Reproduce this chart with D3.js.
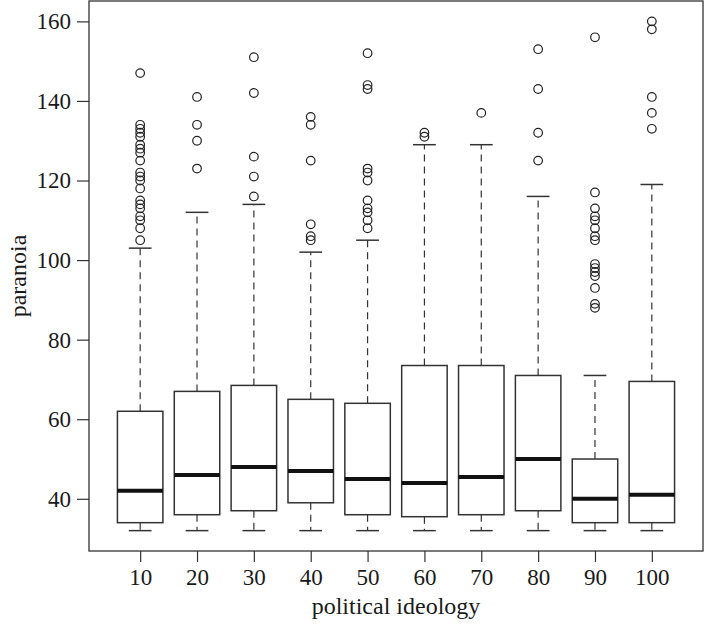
<!DOCTYPE html>
<html>
<head>
<meta charset="utf-8">
<script src="https://cdn.jsdelivr.net/npm/d3@7"></script>
<style>
  html, body { margin: 0; padding: 0; background: #fff; }
  svg { display: block; }
  text { font-family: "Liberation Serif", "Times New Roman", Times, serif; fill: #1a1a1a; }
</style>
</head>
<body>
<svg id="chart" width="705" height="625"></svg>
<script>
// ---- data ----
const categories = ["10", "20", "30", "40", "50", "60", "70", "80", "90", "100"];
const whiskerLow  = [32, 32, 32, 32, 32, 32, 32, 32, 32, 32];
const q1          = [34, 36, 37, 39, 36, 35.5, 36, 37, 34, 34];
const medians     = [42, 46, 48, 47, 45, 44, 45.5, 50, 40, 41];
const q3          = [62, 67, 68.5, 65, 64, 73.5, 73.5, 71, 50, 69.5];
const whiskerHigh = [103, 112, 114, 102, 105, 129, 129, 116, 71, 119];
const outliers = [
  [147, 134, 133, 132, 131, 129, 128, 127, 125, 122, 121, 120, 118, 115, 114, 113, 111, 110, 108, 105],
  [141, 134, 130, 123],
  [151, 142, 126, 121, 116],
  [136, 134, 125, 109, 106, 105],
  [152, 144, 143, 123, 122, 120, 115, 113, 112, 110, 108],
  [132, 131],
  [137],
  [153, 143, 132, 125],
  [156, 117, 113, 111, 110, 108, 106, 105, 99, 98, 97, 96, 93, 89, 88],
  [160, 158, 141, 137, 133]
];
const yTicks = [40, 60, 80, 100, 120, 140, 160];
const xLabel = "political ideology";
const yLabel = "paranoia";

// ---- layout ----
const svg = d3.select("#chart");
const mLeft = 89, mRight = 703, mTop = 1, mBottom = 551;
const ink = "#333";
const tickFs = 23, titleFs = 24;

const x = d3.scaleLinear().domain([0.1, 10.9]).range([mLeft, mRight]);
const y = d3.scaleLinear().domain([26.88, 165.12]).range([mBottom, mTop]);
const boxW = x(0.8) - x(0);
const capW = x(0.4) - x(0);

// frame
svg.append("rect")
  .attr("x", mLeft).attr("y", mTop)
  .attr("width", mRight - mLeft).attr("height", mBottom - mTop)
  .attr("fill", "none").attr("stroke", ink).attr("stroke-width", 1.3);

// y axis
const yAxis = d3.axisLeft(y).tickValues(yTicks).tickSize(12).tickPadding(6);
const gy = svg.append("g").attr("transform", `translate(${mLeft},0)`).call(yAxis);
gy.select(".domain").remove();
gy.selectAll("line").attr("stroke", ink).attr("stroke-width", 1.2);
gy.selectAll("text").attr("font-size", tickFs).attr("font-family", null).attr("fill", null);

// x axis
const xAxis = d3.axisBottom(x).tickValues(d3.range(1, 11))
  .tickFormat((d, i) => categories[i]).tickSize(11).tickPadding(7);
const gx = svg.append("g").attr("transform", `translate(0,${mBottom})`).call(xAxis);
gx.select(".domain").remove();
gx.selectAll("line").attr("stroke", ink).attr("stroke-width", 1.2);
gx.selectAll("text").attr("font-size", tickFs).attr("font-family", null).attr("fill", null);

// axis titles
svg.append("text")
  .attr("x", (mLeft + mRight) / 2).attr("y", 614)
  .attr("text-anchor", "middle").attr("font-size", titleFs)
  .text(xLabel);
svg.append("text")
  .attr("transform", `translate(26,${(mTop + mBottom) / 2}) rotate(-90)`)
  .attr("text-anchor", "middle").attr("font-size", titleFs)
  .text(yLabel);

// boxes
const groups = svg.append("g").selectAll("g").data(categories).join("g");
groups.each(function (c, i) {
  const g = d3.select(this);
  const cx = x(i + 1);
  // whiskers (dashed)
  g.append("line").attr("x1", cx).attr("x2", cx)
    .attr("y1", y(q3[i])).attr("y2", y(whiskerHigh[i]))
    .attr("stroke", ink).attr("stroke-width", 1.2).attr("stroke-dasharray", "7,5");
  g.append("line").attr("x1", cx).attr("x2", cx)
    .attr("y1", y(q1[i])).attr("y2", y(whiskerLow[i]))
    .attr("stroke", ink).attr("stroke-width", 1.2).attr("stroke-dasharray", "7,5");
  // caps
  [whiskerHigh[i], whiskerLow[i]].forEach(v => {
    g.append("line").attr("x1", cx - capW / 2).attr("x2", cx + capW / 2)
      .attr("y1", y(v)).attr("y2", y(v))
      .attr("stroke", ink).attr("stroke-width", 1.5);
  });
  // box
  g.append("rect")
    .attr("x", cx - boxW / 2).attr("y", y(q3[i]))
    .attr("width", boxW).attr("height", y(q1[i]) - y(q3[i]))
    .attr("fill", "#fff").attr("stroke", ink).attr("stroke-width", 1.5);
  // median
  g.append("line").attr("x1", cx - boxW / 2).attr("x2", cx + boxW / 2)
    .attr("y1", y(medians[i])).attr("y2", y(medians[i]))
    .attr("stroke", "#111").attr("stroke-width", 4);
  // outliers
  g.selectAll("circle").data(outliers[i]).join("circle")
    .attr("cx", cx).attr("cy", d => y(d)).attr("r", 4.3)
    .attr("fill", "none").attr("stroke", "#222").attr("stroke-width", 1.2);
});
</script>
</body>
</html>
